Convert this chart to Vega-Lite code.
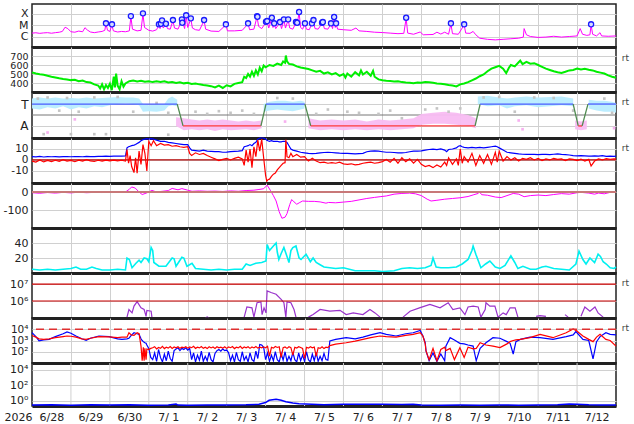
{
  "$schema": "https://vega.github.io/schema/vega-lite/v6.json",
  "background": "white",
  "padding": {"left": 2, "top": 3, "right": 4, "bottom": 4},
  "spacing": 0,
  "bounds": "flush",
  "config": {
    "view": {"stroke": "#222", "strokeWidth": 1.5},
    "axis": {"labelFont": "DejaVu Sans", "labelFontSize": 11, "labelColor": "#222", "gridColor": "#d0d0d0", "ticks": false, "domain": false, "labelPadding": 4, "labelOverlap": false, "labelFlush": false}
  },
  "vconcat": [
    {
      "width": 584, "height": 43,
      "layer": [
        {
          "data": {"format": {"type": "csv", "parse": {"t": "number", "f": "number"}},
            "values": "t,f\n0,-5.70\n0.1,-5.67\n0.2,-5.72\n0.3,-5.68\n0.4,-5.66\n0.5,-5.71\n0.6,-5.66\n0.7,-5.62\n0.78,-5.55\n0.85,-5.18\n0.92,-5.30\n1.0,-5.58\n1.1,-5.62\n1.2,-5.52\n1.3,-5.58\n1.36,-5.22\n1.42,-5.42\n1.5,-5.60\n1.6,-5.66\n1.7,-5.60\n1.8,-5.55\n1.87,-5.45\n1.90,-4.88\n1.94,-5.45\n2.0,-5.55\n2.05,-4.97\n2.09,-5.50\n2.2,-5.60\n2.3,-5.55\n2.4,-5.58\n2.5,-5.50\n2.54,-4.24\n2.58,-5.35\n2.7,-5.50\n2.8,-5.45\n2.85,-4.00\n2.89,-5.20\n3.0,-5.45\n3.1,-5.52\n3.2,-5.40\n3.26,-4.97\n3.29,-5.30\n3.31,-4.92\n3.33,-4.62\n3.37,-5.25\n3.44,-4.92\n3.48,-5.30\n3.55,-5.35\n3.62,-4.59\n3.66,-5.25\n3.75,-5.35\n3.85,-4.53\n3.88,-4.83\n3.92,-5.30\n3.96,-4.17\n4.0,-5.20\n4.08,-4.44\n4.12,-5.25\n4.2,-5.40\n4.3,-5.45\n4.42,-4.59\n4.46,-5.35\n4.6,-5.52\n4.8,-5.55\n4.98,-4.97\n5.02,-5.50\n5.2,-5.50\n5.4,-5.45\n5.55,-4.88\n5.59,-5.40\n5.7,-5.35\n5.78,-4.24\n5.82,-5.10\n5.9,-5.30\n6.01,-4.74\n6.04,-4.68\n6.08,-5.25\n6.16,-4.39\n6.19,-5.20\n6.22,-4.88\n6.26,-5.30\n6.37,-4.77\n6.41,-5.30\n6.47,-4.53\n6.51,-5.25\n6.58,-4.53\n6.62,-5.25\n6.7,-5.35\n6.78,-4.77\n6.81,-4.83\n6.83,-4.50\n6.86,-3.88\n6.9,-5.20\n6.95,-5.35\n7.01,-4.88\n7.05,-5.35\n7.12,-5.40\n7.19,-4.88\n7.22,-4.59\n7.27,-5.30\n7.35,-5.35\n7.45,-4.83\n7.47,-4.77\n7.51,-5.30\n7.6,-5.35\n7.68,-4.88\n7.72,-5.30\n7.76,-4.32\n7.79,-5.20\n7.81,-4.88\n7.85,-5.35\n8.0,-5.40\n8.2,-5.45\n8.32,-5.25\n8.4,-5.50\n8.6,-5.55\n8.8,-5.62\n9.0,-5.65\n9.2,-5.70\n9.4,-5.75\n9.55,-5.72\n9.61,-4.39\n9.65,-5.70\n9.8,-5.80\n9.97,-5.60\n10.05,-5.85\n10.3,-5.82\n10.4,-5.62\n10.5,-5.78\n10.6,-5.62\n10.7,-5.80\n10.76,-4.88\n10.8,-5.75\n10.95,-5.80\n11.1,-4.97\n11.14,-5.70\n11.25,-5.72\n11.33,-5.55\n11.4,-5.85\n11.5,-6.15\n11.7,-6.25\n11.9,-6.30\n12.1,-6.25\n12.3,-6.20\n12.5,-6.15\n12.62,-6.05\n12.64,-5.30\n12.7,-5.85\n12.8,-6.00\n13.0,-6.08\n13.2,-6.05\n13.4,-5.98\n13.6,-6.05\n13.8,-6.00\n14.0,-5.95\n14.08,-5.30\n14.14,-5.80\n14.25,-5.90\n14.33,-5.85\n14.36,-4.97\n14.4,-5.80\n14.5,-5.95\n14.59,-5.66\n14.63,-5.95\n14.8,-5.98\n15.0,-5.95"},
          "mark": {"type": "line", "color": "#ff00ff", "strokeWidth": 1},
          "encoding": {
            "x": {"field": "t", "type": "quantitative", "scale": {"domain": [0, 15], "nice": false, "zero": false},
              "axis": {"values": [1,2,3,4,5,6,7,8,9,10,11,12,13,14], "tickCount": 30, "grid": true, "labels": false, "domain": true, "domainWidth": 3, "domainColor": "#222", "title": null}},
            "y": {"field": "f", "type": "quantitative", "scale": {"domain": [-6.93, -3.12], "nice": false, "zero": false},
              "axis": {"values": [-6, -5, -4], "tickCount": 30, "grid": true, "title": null, "labelFontSize": 11, "labelExpr": "datum.value == -4 ? 'X' : datum.value == -5 ? 'M' : 'C'"}}
          }
        },
        {
          "data": {"format": {"type": "csv", "parse": {"t": "number", "f": "number"}},
            "values": "t,f\n1.90,-4.83\n2.055,-4.92\n2.54,-4.19\n2.85,-3.95\n3.26,-4.92\n3.31,-4.87\n3.34,-4.57\n3.44,-4.87\n3.62,-4.54\n3.85,-4.48\n3.86,-4.78\n3.96,-4.12\n4.08,-4.39\n4.42,-4.54\n4.98,-4.92\n5.55,-4.83\n5.78,-4.19\n5.79,-4.25\n6.01,-4.69\n6.04,-4.63\n6.16,-4.34\n6.22,-4.83\n6.37,-4.72\n6.47,-4.48\n6.58,-4.48\n6.78,-4.72\n6.81,-4.78\n6.86,-3.83\n7.01,-4.83\n7.19,-4.83\n7.23,-4.54\n7.45,-4.78\n7.47,-4.72\n7.68,-4.83\n7.76,-4.27\n7.81,-4.83\n9.61,-4.34\n10.76,-4.83\n11.10,-4.92\n14.36,-4.92"},
          "mark": {"type": "point", "filled": true, "fill": "#d4dcff", "stroke": "#1a1aff", "strokeWidth": 1.3, "size": 26, "opacity": 1},
          "encoding": {
            "x": {"field": "t", "type": "quantitative"},
            "y": {"field": "f", "type": "quantitative"}
          }
        }
      ]
    },
    {
      "width": 584, "height": 45,
      "layer": [
        {
          "data": {"format": {"type": "csv", "parse": {"t": "number", "v": "number"}},
            "values": "t,v\n0,518\n0.1,505\n0.2,498\n0.3,492\n0.4,480\n0.5,470\n0.6,462\n0.7,452\n0.8,445\n0.9,440\n1.0,432\n1.1,435\n1.2,420\n1.3,428\n1.4,410\n1.5,405\n1.6,385\n1.7,372\n1.75,340\n1.8,385\n1.85,330\n1.9,378\n1.95,345\n2.0,392\n2.05,320\n2.1,470\n2.13,350\n2.16,505\n2.2,370\n2.25,330\n2.3,420\n2.35,360\n2.4,395\n2.5,420\n2.6,428\n2.7,418\n2.8,425\n2.9,415\n3.0,420\n3.1,410\n3.2,418\n3.3,412\n3.4,420\n3.5,405\n3.6,410\n3.7,400\n3.8,408\n3.9,396\n4.0,402\n4.1,390\n4.2,395\n4.3,385\n4.4,378\n4.5,372\n4.6,365\n4.7,350\n4.8,370\n4.9,345\n5.0,375\n5.1,362\n5.2,390\n5.3,400\n5.4,410\n5.45,470\n5.5,455\n5.55,500\n5.6,470\n5.65,525\n5.7,480\n5.75,540\n5.8,495\n5.85,570\n5.9,530\n5.95,595\n6.0,575\n6.1,600\n6.2,590\n6.3,615\n6.4,600\n6.45,640\n6.5,625\n6.52,705\n6.55,640\n6.6,612\n6.7,605\n6.8,585\n6.9,572\n7.0,565\n7.1,556\n7.2,540\n7.3,525\n7.4,535\n7.5,505\n7.6,518\n7.7,495\n7.8,510\n7.9,480\n8.0,500\n8.05,460\n8.1,505\n8.2,470\n8.3,520\n8.4,485\n8.45,540\n8.5,495\n8.6,525\n8.7,480\n8.76,535\n8.8,470\n8.9,440\n9.0,430\n9.1,425\n9.2,422\n9.3,418\n9.4,420\n9.5,410\n9.6,405\n9.7,402\n9.8,398\n9.9,405\n10.0,402\n10.1,412\n10.2,408\n10.3,402\n10.4,395\n10.5,392\n10.6,385\n10.7,378\n10.8,372\n10.9,362\n11.0,385\n11.1,395\n11.2,410\n11.3,430\n11.4,450\n11.5,475\n11.6,495\n11.7,530\n11.8,560\n11.9,575\n12.0,590\n12.1,560\n12.18,510\n12.25,570\n12.3,600\n12.4,585\n12.5,630\n12.54,648\n12.6,610\n12.7,635\n12.8,615\n12.9,620\n13.0,600\n13.1,580\n13.2,560\n13.3,545\n13.4,530\n13.5,520\n13.6,512\n13.7,525\n13.8,540\n13.9,545\n14.0,560\n14.1,550\n14.2,558\n14.3,548\n14.4,540\n14.5,525\n14.6,515\n14.7,505\n14.8,485\n14.9,470\n15.0,458"},
          "mark": {"type": "line", "color": "#00ee00", "strokeWidth": 2},
          "encoding": {
            "x": {"field": "t", "type": "quantitative", "scale": {"domain": [0, 15], "nice": false, "zero": false},
              "axis": {"values": [1,2,3,4,5,6,7,8,9,10,11,12,13,14], "tickCount": 30, "grid": true, "labels": false, "domain": true, "domainWidth": 3, "domainColor": "#222", "title": null}},
            "y": {"field": "v", "type": "quantitative", "scale": {"domain": [300, 800], "nice": false, "zero": false},
              "axis": {"values": [400, 500, 600, 700], "tickCount": 30, "grid": true, "title": null, "labelFontSize": 9.5}}
          }
        },
        {
          "data": {"values": [{}]},
          "mark": {"type": "text", "text": "rt", "align": "left", "baseline": "middle", "fontSize": 9, "color": "#444", "font": "DejaVu Sans"},
          "encoding": {"x": {"datum": 15.15}, "y": {"datum": 680}}
        }
      ]
    },
    {
      "width": 584, "height": 46,
      "layer": [
        {
          "data": {"values": [{}]},
          "mark": {"type": "rule", "color": "#777", "strokeWidth": 1},
          "encoding": {"y": {"datum": 0, "scale": {"domain": [-2.1, 2.1], "nice": false, "zero": false},
            "axis": {"values": [-1, 1], "tickCount": 30, "grid": true, "title": null, "labelFontSize": 12, "labelExpr": "datum.value > 0 ? 'T' : 'A'"}}}
        },
        {
          "data": {"format": {"type": "csv", "parse": {"t": "number", "hi": "number", "lo": "number", "g": "number"}},
            "values": "t,hi,lo,g\n0,1.5,0.6,1\n0.2,1.6,0.5,1\n0.4,1.5,0.7,1\n0.6,1.6,0.6,1\n0.8,1.5,0.8,1\n1.0,1.55,0.5,1\n1.2,1.5,0.7,1\n1.4,1.6,0.6,1\n1.6,1.5,0.8,1\n1.8,1.55,0.7,1\n2.0,1.6,0.9,1\n2.2,1.65,1.0,1\n2.4,1.6,1.05,1\n2.6,1.6,1.0,1\n2.75,1.5,0.9,1\n2.85,1.0,0.3,1\n3.0,0.9,0.35,1\n3.2,0.95,0.3,1\n3.4,1.0,0.4,1\n3.5,1.5,0.8,1\n3.6,1.7,0.9,1\n3.73,1.4,0.8,1\n5.95,1.0,0.3,2\n6.1,1.2,0.4,2\n6.3,1.3,0.5,2\n6.5,1.3,0.4,2\n6.7,1.2,0.35,2\n6.9,1.3,0.5,2\n7.0,1.2,0.6,2\n11.45,1.7,1.0,3\n11.7,1.75,0.8,3\n12.0,1.6,0.9,3\n12.2,1.5,0.6,3\n12.4,1.6,0.8,3\n12.7,1.7,0.9,3\n13.0,1.6,0.7,3\n13.3,1.65,0.8,3\n13.6,1.7,0.9,3\n13.9,1.5,0.8,3\n14.3,1.4,0.6,4\n14.5,1.3,0.4,4\n14.7,1.3,0.3,4\n14.9,1.2,0.3,4\n15,1.1,0.2,4"},
          "mark": {"type": "area", "color": "#b8ecff", "opacity": 0.95},
          "encoding": {
            "x": {"field": "t", "type": "quantitative", "scale": {"domain": [0, 15], "nice": false, "zero": false},
              "axis": {"values": [1,2,3,4,5,6,7,8,9,10,11,12,13,14], "tickCount": 30, "grid": true, "labels": false, "domain": true, "domainWidth": 3, "domainColor": "#222", "title": null}},
            "y": {"field": "hi", "type": "quantitative"},
            "y2": {"field": "lo"},
            "detail": {"field": "g", "type": "nominal"}
          }
        },
        {
          "data": {"format": {"type": "csv", "parse": {"t": "number", "hi": "number", "lo": "number", "g": "number"}},
            "values": "t,hi,lo,g\n3.7,-0.2,-1.0,1\n3.9,-0.3,-1.4,1\n4.1,-0.4,-1.3,1\n4.3,-0.5,-1.4,1\n4.5,-0.4,-1.3,1\n4.7,-0.5,-1.45,1\n4.9,-0.4,-1.3,1\n5.1,-0.5,-1.4,1\n5.3,-0.6,-1.35,1\n5.5,-0.5,-1.3,1\n5.7,-0.6,-1.4,1\n5.9,-0.5,-1.2,1\n7.1,-0.3,-1.2,2\n7.4,-0.5,-1.4,2\n7.7,-0.4,-1.3,2\n8.0,-0.5,-1.4,2\n8.3,-0.4,-1.3,2\n8.6,-0.6,-1.4,2\n8.9,-0.4,-1.3,2\n9.2,-0.5,-1.4,2\n9.5,-0.4,-1.3,2\n9.8,-0.3,-1.2,2\n10.0,0.1,-0.9,2\n10.3,0.2,-0.8,2\n10.6,0.3,-0.8,2\n10.9,0.2,-0.9,2\n11.2,0.0,-1.0,2\n11.4,-0.3,-1.2,2\n13.95,-0.5,-1.3,3\n14.1,-0.6,-1.4,3\n14.25,-0.5,-1.3,3"},
          "mark": {"type": "area", "color": "#f8bcf2", "opacity": 0.95},
          "encoding": {
            "x": {"field": "t", "type": "quantitative"},
            "y": {"field": "hi", "type": "quantitative"},
            "y2": {"field": "lo"},
            "detail": {"field": "g", "type": "nominal"}
          }
        },
        {
          "data": {"format": {"type": "csv", "parse": {"t": "number", "v": "number"}},
            "values": "t,v\n0.15,1.5\n0.3,-1.75\n0.4,1.6\n0.7,0.4\n0.9,1.55\n1.0,-1.75\n1.2,0.3\n1.6,1.6\n1.6,-1.75\n1.9,-1.75\n2.2,1.65\n2.6,0.3\n3.2,1.1\n3.5,0.2\n3.5,-1.8\n4.2,0.3\n4.5,0.1\n4.8,0.35\n5.1,0.2\n5.4,0.4\n5.7,0.1\n6.3,1.55\n6.7,1.5\n7.3,0.1\n7.6,0.5\n8.1,0.3\n8.4,0.2\n8.9,0.1\n9.2,0.4\n9.5,-0.3\n10.1,0.5\n10.4,0.6\n10.7,0.3\n11.0,0.6\n11.6,1.6\n12.0,1.65\n12.4,0.3\n12.9,1.6\n13.4,1.55\n13.9,0.4\n14.7,1.5\n14.9,0.2"},
          "mark": {"type": "square", "color": "#c4c4c4", "size": 7, "opacity": 1},
          "encoding": {
            "x": {"field": "t", "type": "quantitative"},
            "y": {"field": "v", "type": "quantitative"}
          }
        },
        {
          "data": {"format": {"type": "csv", "parse": {"t": "number", "v": "number"}},
            "values": "t,v\n0.4,-1.6\n1.1,-0.4\n6.5,-0.6\n12.5,-0.5\n12.6,-1.3\n14.95,-1.2"},
          "mark": {"type": "square", "color": "#f7b0f0", "size": 7, "opacity": 1},
          "encoding": {
            "x": {"field": "t", "type": "quantitative"},
            "y": {"field": "v", "type": "quantitative"}
          }
        },
        {
          "data": {"format": {"type": "csv", "parse": {"t": "number", "s": "number", "g": "number"}},
            "values": "t,s,g,k\n0,1,1,T\n3.73,1,1,T\n3.73,1,2,X\n3.88,-1,2,X\n3.88,-1,3,A\n5.88,-1,3,A\n5.88,-1,4,X\n6.01,1,4,X\n6.01,1,5,T\n7.01,1,5,T\n7.01,1,6,X\n7.16,-1,6,X\n7.16,-1,7,A\n11.38,-1,7,A\n11.38,-1,8,X\n11.51,1,8,X\n11.51,1,9,T\n13.90,1,9,T\n13.90,1,10,X\n14.03,-1,10,X\n14.03,-1,11,A\n14.13,-1,11,A\n14.13,-1,12,X\n14.28,1,12,X\n14.28,1,13,T\n15,1,13,T"},
          "mark": {"type": "line", "strokeWidth": 1.3},
          "encoding": {
            "x": {"field": "t", "type": "quantitative"},
            "y": {"field": "s", "type": "quantitative"},
            "detail": {"field": "g", "type": "nominal"},
            "color": {"field": "k", "type": "nominal", "legend": null, "scale": {"domain": ["T", "A", "X"], "range": ["#4a5cff", "#ff3a3a", "#4f8a4f"]}}
          }
        },
        {
          "data": {"values": [{}]},
          "mark": {"type": "text", "text": "rt", "align": "left", "baseline": "middle", "fontSize": 9, "color": "#444", "font": "DejaVu Sans"},
          "encoding": {"x": {"datum": 15.15}, "y": {"datum": 1.2}}
        }
      ]
    },
    {
      "width": 584, "height": 45,
      "data": {"format": {"type": "csv", "parse": {"t": "number", "bt": "number", "bz": "number"}},
        "values": "t,bt,bz\n0.0,3.0,-1.0\n0.1,2.8,-2.0\n0.2,3.2,0.0\n0.3,2.7,-1.8\n0.4,3.0,-0.5\n0.5,2.9,-1.5\n0.6,3.1,-0.3\n0.7,2.8,-1.2\n0.8,3.0,0.2\n0.9,3.1,-1.0\n1.0,2.9,-0.4\n1.1,3.0,-1.6\n1.2,3.1,-0.2\n1.3,2.9,-1.0\n1.4,3.2,0.3\n1.5,3.0,-0.8\n1.6,3.1,-1.4\n1.7,3.3,-0.3\n1.8,3.2,-1.0\n1.9,3.4,-0.2\n2.0,3.3,-0.8\n2.1,3.5,-0.1\n2.2,3.4,-0.9\n2.3,3.5,-0.3\n2.4,3.6,-1.0\n2.44,11.0,9.5\n2.48,12.0,-3.0\n2.52,12.5,4.0\n2.56,13.0,-6.0\n2.62,13.5,-11.5\n2.66,14.0,2.0\n2.70,15.0,-12.0\n2.75,16.0,8.0\n2.80,17.5,-4.0\n2.85,18.5,14.0\n2.90,19.0,6.0\n2.95,19.5,-10.0\n3.0,19.0,17.0\n3.06,19.5,13.0\n3.12,19.0,17.5\n3.2,18.0,13.0\n3.3,17.0,15.0\n3.4,17.0,13.5\n3.5,16.0,14.0\n3.6,15.5,12.5\n3.7,15.0,13.0\n3.8,14.5,12.0\n3.9,14.0,11.5\n4.0,14.0,12.0\n4.05,11.0,6.0\n4.1,9.0,4.0\n4.2,8.5,6.5\n4.3,8.0,5.0\n4.4,9.0,6.0\n4.5,8.0,4.0\n4.6,7.8,2.5\n4.7,7.5,1.0\n4.8,7.5,-0.5\n4.9,7.0,0.5\n5.0,7.2,1.5\n5.1,7.5,0.0\n5.2,7.8,1.5\n5.3,8.0,2.5\n5.4,8.5,1.0\n5.45,12.0,-5.0\n5.5,12.5,9.0\n5.55,13.0,-2.0\n5.6,14.0,10.0\n5.65,13.0,-7.0\n5.7,15.0,12.0\n5.75,16.0,3.0\n5.8,19.0,18.0\n5.85,20.0,8.0\n5.9,20.0,19.0\n5.95,20.0,2.0\n6.0,19.0,-14.0\n6.03,18.0,-19.5\n6.06,17.5,-18.0\n6.1,17.0,-17.5\n6.15,17.5,-15.0\n6.2,17.0,-13.0\n6.25,17.0,-12.0\n6.3,17.0,-9.0\n6.35,16.5,-7.0\n6.4,16.5,-5.0\n6.45,17.0,-3.0\n6.5,17.0,-2.5\n6.52,16.5,18.5\n6.55,16.0,3.0\n6.6,13.0,2.0\n6.65,10.0,6.0\n6.7,9.0,3.0\n6.8,8.0,5.0\n6.9,7.0,2.5\n7.0,6.5,3.0\n7.1,6.0,-1.0\n7.2,5.8,1.5\n7.3,6.0,-1.0\n7.4,6.5,-2.5\n7.5,6.8,-2.0\n7.6,7.0,-3.0\n7.7,6.8,-2.5\n7.8,6.5,-3.0\n7.9,6.2,-2.0\n8.0,6.0,-3.5\n8.1,6.0,-4.0\n8.2,5.8,-3.5\n8.3,5.5,-4.5\n8.4,5.8,-4.0\n8.5,6.0,-3.0\n8.6,7.5,-2.5\n8.7,8.0,-2.0\n8.8,8.2,-3.0\n8.9,8.0,-2.5\n9.0,7.5,-1.5\n9.1,7.0,0.5\n9.2,7.0,-2.0\n9.3,6.8,1.5\n9.4,6.5,-3.0\n9.5,6.5,2.0\n9.6,6.8,-1.5\n9.7,7.5,1.0\n9.8,8.0,-3.0\n9.9,8.0,0.5\n10.0,8.2,-4.0\n10.1,9.0,-6.0\n10.2,9.5,-5.0\n10.3,9.8,-7.0\n10.4,9.5,-4.5\n10.5,10.0,-6.5\n10.6,9.0,-2.0\n10.65,7.5,-5.0\n10.7,9.5,2.0\n10.8,10.0,-4.0\n10.9,11.0,1.0\n10.95,12.5,-5.0\n11.0,13.0,10.0\n11.05,12.0,-3.0\n11.1,11.5,3.0\n11.2,11.0,-2.0\n11.3,11.5,6.0\n11.4,11.0,-5.0\n11.5,11.5,4.0\n11.6,11.0,-3.0\n11.7,11.5,5.0\n11.8,12.0,-4.0\n11.9,12.5,7.0\n11.95,12.0,-2.0\n12.0,11.0,8.0\n12.1,9.0,-1.0\n12.2,7.0,3.0\n12.3,6.5,0.0\n12.4,6.0,2.0\n12.5,5.5,-1.0\n12.6,5.2,1.5\n12.7,5.0,0.5\n12.8,5.2,2.0\n12.9,5.0,0.0\n13.0,4.8,1.5\n13.1,5.0,-0.5\n13.2,5.0,1.0\n13.3,4.8,0.0\n13.4,5.2,1.5\n13.5,5.5,0.5\n13.6,5.0,1.0\n13.7,4.8,-0.5\n13.8,4.5,1.0\n13.9,4.0,0.5\n14.0,3.8,-0.5\n14.1,4.0,0.8\n14.2,3.8,-1.0\n14.3,3.5,0.5\n14.36,3.5,-5.5\n14.45,3.8,-1.0\n14.55,3.5,1.0\n14.65,4.0,0.0\n14.75,3.2,1.2\n14.85,3.5,0.5\n14.95,3.2,1.0\n15.0,3.5,0.8"},
      "layer": [
        {
          "mark": {"type": "line", "color": "#0000ff", "strokeWidth": 1.2},
          "encoding": {
            "x": {"field": "t", "type": "quantitative", "scale": {"domain": [0, 15], "nice": false, "zero": false},
              "axis": {"values": [1,2,3,4,5,6,7,8,9,10,11,12,13,14], "tickCount": 30, "grid": true, "labels": false, "domain": true, "domainWidth": 3, "domainColor": "#222", "title": null}},
            "y": {"field": "bt", "type": "quantitative", "scale": {"domain": [-21, 20], "nice": false, "zero": false},
              "axis": {"values": [-10, 0, 10], "tickCount": 30, "grid": true, "title": null, "labelFontSize": 10.5, "labelExpr": "'' + datum.value"}}
          }
        },
        {
          "data": {"values": [{}]},
          "mark": {"type": "rule", "color": "#b00000", "strokeWidth": 1.2},
          "encoding": {"y": {"datum": 0}}
        },
        {
          "mark": {"type": "line", "color": "#ff0000", "strokeWidth": 1.2},
          "encoding": {
            "x": {"field": "t", "type": "quantitative"},
            "y": {"field": "bz", "type": "quantitative"}
          }
        },
        {
          "data": {"values": [{}]},
          "mark": {"type": "text", "text": "rt", "align": "left", "baseline": "middle", "fontSize": 9, "color": "#444", "font": "DejaVu Sans"},
          "encoding": {"x": {"datum": 15.15}, "y": {"datum": 11}}
        }
      ]
    },
    {
      "width": 584, "height": 45,
      "layer": [
        {
          "data": {"format": {"type": "csv", "parse": {"t": "number", "d": "number"}},
            "values": "t,d\n0.0,-4\n0.2,-7\n0.4,-3\n0.6,-6\n0.8,-2\n1.0,-5\n1.2,-1\n1.4,-4\n1.6,-2\n1.8,-3\n2.0,0\n2.2,-2\n2.4,0\n2.5,15\n2.56,28\n2.65,22\n2.75,0\n2.83,-14\n2.95,-5\n3.08,9\n3.2,0\n3.35,4\n3.5,8\n3.6,20\n3.75,12\n3.85,19\n4.0,10\n4.11,4\n4.3,6\n4.5,4\n4.7,5\n4.9,3\n5.1,6\n5.3,4\n5.5,8\n5.7,10\n5.83,14\n5.95,18\n6.04,38\n6.12,10\n6.2,-20\n6.27,-50\n6.35,-110\n6.42,-146\n6.5,-140\n6.55,-120\n6.62,-70\n6.67,-42\n6.73,-55\n6.8,-68\n6.88,-58\n6.95,-50\n7.1,-52\n7.25,-52\n7.4,-55\n7.55,-62\n7.62,-58\n7.8,-60\n8.0,-56\n8.2,-52\n8.4,-44\n8.6,-36\n8.8,-30\n8.94,-26\n9.1,-22\n9.3,-12\n9.5,-8\n9.7,-6\n9.85,-10\n10.0,-20\n10.15,-40\n10.25,-50\n10.4,-46\n10.6,-40\n10.8,-36\n11.0,-32\n11.2,-25\n11.35,-15\n11.46,-8\n11.48,5\n11.55,-15\n11.7,-18\n11.9,-28\n12.05,-31\n12.2,-20\n12.36,-8\n12.5,-12\n12.64,-26\n12.8,-20\n13.0,-17\n13.2,-20\n13.4,-14\n13.6,-9\n13.8,-12\n14.0,-4\n14.1,-2\n14.3,-6\n14.45,-12\n14.55,-6\n14.7,-10\n14.85,-2\n15.0,-1"},
          "mark": {"type": "line", "color": "#ff00ff", "strokeWidth": 1},
          "encoding": {
            "x": {"field": "t", "type": "quantitative", "scale": {"domain": [0, 15], "nice": false, "zero": false},
              "axis": {"values": [1,2,3,4,5,6,7,8,9,10,11,12,13,14], "tickCount": 30, "grid": true, "labels": false, "domain": true, "domainWidth": 3, "domainColor": "#222", "title": null}},
            "y": {"field": "d", "type": "quantitative", "scale": {"domain": [-200, 50], "nice": false, "zero": false},
              "axis": {"values": [-100, 0], "tickCount": 30, "grid": true, "title": null, "labelExpr": "'' + datum.value"}}
          }
        },
        {
          "data": {"values": [{}]},
          "mark": {"type": "rule", "color": "#c87878", "strokeWidth": 2.2},
          "encoding": {"y": {"datum": 0}}
        }
      ]
    },
    {
      "width": 584, "height": 45,
      "layer": [
        {
          "data": {"format": {"type": "csv", "parse": {"t": "number", "k": "number"}},
            "values": "t,k\n0.0,5\n0.2,4\n0.4,5\n0.6,4\n0.8,5\n1.0,6\n1.13,8\n1.25,5\n1.4,5\n1.54,8\n1.65,6\n1.8,4\n2.0,4\n2.2,5\n2.4,4\n2.44,20\n2.5,18\n2.57,7\n2.67,13\n2.75,17\n2.8,14\n2.88,20\n2.95,19\n3.0,15\n3.06,34\n3.1,30\n3.13,14\n3.26,9\n3.44,9\n3.6,20\n3.65,19\n3.7,9\n3.85,21\n3.9,20\n3.98,9\n4.11,13\n4.2,6\n4.4,5\n4.6,4\n4.8,5\n5.0,4\n5.2,5\n5.4,5\n5.5,12\n5.6,10\n5.75,13\n5.9,14\n6.01,16\n6.04,38\n6.1,30\n6.2,36\n6.27,40\n6.3,28\n6.34,18\n6.4,26\n6.47,34\n6.55,22\n6.6,14\n6.65,30\n6.7,34\n6.78,36\n6.86,20\n6.91,18\n7.04,25\n7.15,15\n7.22,20\n7.3,14\n7.4,11\n7.5,8\n7.65,7\n7.8,6\n8.0,7\n8.3,3\n8.5,3\n8.8,3\n9.0,2\n9.3,3\n9.5,6\n9.7,7\n9.9,6\n10.1,7\n10.25,10\n10.3,20\n10.38,8\n10.5,7\n10.7,7\n10.9,8\n11.05,12\n11.2,18\n11.3,30\n11.33,36\n11.4,25\n11.53,7\n11.65,12\n11.76,16\n11.9,8\n12.02,6\n12.15,10\n12.3,23\n12.4,14\n12.48,6\n12.61,9\n12.8,5\n12.95,5\n13.1,8\n13.2,9\n13.4,6\n13.6,5\n13.8,4\n13.97,12\n14.05,29\n14.15,18\n14.23,12\n14.33,20\n14.45,14\n14.54,25\n14.6,22\n14.67,15\n14.75,12\n14.85,7\n14.95,6\n15.0,8"},
          "mark": {"type": "line", "color": "#00f0f0", "strokeWidth": 1.6},
          "encoding": {
            "x": {"field": "t", "type": "quantitative", "scale": {"domain": [0, 15], "nice": false, "zero": false},
              "axis": {"values": [1,2,3,4,5,6,7,8,9,10,11,12,13,14], "tickCount": 30, "grid": true, "labels": false, "domain": true, "domainWidth": 3, "domainColor": "#222", "title": null}},
            "y": {"field": "k", "type": "quantitative", "scale": {"domain": [0, 60], "nice": false, "zero": false},
              "axis": {"values": [20, 40], "tickCount": 30, "grid": true, "title": null}}
          }
        }
      ]
    },
    {
      "width": 584, "height": 45,
      "layer": [
        {
          "data": {"format": {"type": "csv", "parse": {"t": "number", "e": "number", "g": "number"}},
            "values": "t,e,g\n2.44,5.05,1\n2.49,5.5,1\n2.57,5.3,1\n2.62,5.7,1\n2.70,5.96,1\n2.80,5.6,1\n2.88,5.5,1\n2.93,5.1,1\n2.95,5.45,1\n3.06,5.4,1\n3.08,5.05,1\n4.45,5.0,2\n4.5,5.06,2\n4.55,5.0,2\n5.45,5.05,3\n5.52,5.65,3\n5.65,5.6,3\n5.70,5.05,3\n5.78,5.9,3\n5.88,5.95,3\n5.91,5.2,3\n5.96,5.6,3\n6.01,5.3,3\n6.04,6.6,3\n6.14,6.5,3\n6.27,6.4,3\n6.40,6.1,3\n6.47,5.9,3\n6.52,5.05,3\n6.55,5.95,3\n6.65,5.9,3\n6.73,5.5,3\n6.78,5.05,3\n7.1,5.05,4\n7.22,5.2,4\n7.40,5.5,4\n7.65,5.4,4\n7.91,5.45,4\n8.07,5.2,4\n8.25,5.3,4\n8.50,5.2,4\n8.68,5.5,4\n8.81,5.3,4\n8.94,5.05,4\n9.53,5.05,5\n9.71,5.4,5\n9.97,5.61,5\n10.22,5.8,5\n10.48,5.6,5\n10.69,5.9,5\n10.81,5.5,5\n10.99,5.6,5\n11.12,5.2,5\n11.20,5.65,5\n11.33,5.7,5\n11.46,5.65,5\n11.53,5.05,5\n11.64,5.5,5\n11.66,5.9,5\n11.76,5.7,5\n11.89,5.7,5\n11.97,5.05,5\n12.10,5.3,5\n12.18,5.2,5\n12.28,5.6,5\n12.41,5.6,5\n12.48,5.05,5\n12.95,5.1,6\n13.05,5.14,6\n13.2,5.1,6\n13.69,5.2,7\n13.77,5.05,7\n14.10,5.1,8\n14.20,5.65,8\n14.33,5.4,8\n14.46,5.65,8\n14.54,5.3,8\n14.67,5.05,8"},
          "mark": {"type": "line", "color": "#9933cc", "strokeWidth": 1.2},
          "encoding": {
            "x": {"field": "t", "type": "quantitative", "scale": {"domain": [0, 15], "nice": false, "zero": false},
              "axis": {"values": [1,2,3,4,5,6,7,8,9,10,11,12,13,14], "tickCount": 30, "grid": true, "labels": false, "domain": true, "domainWidth": 3, "domainColor": "#222", "title": null}},
            "y": {"field": "e", "type": "quantitative", "scale": {"domain": [5, 7.65], "nice": false, "zero": false},
              "axis": {"values": [6, 7], "tickCount": 30, "grid": true, "title": null, "labelExpr": "datum.value == 7 ? '10⁷' : '10⁶'"}},
            "detail": {"field": "g", "type": "nominal"}
          }
        },
        {
          "data": {"values": [{"lv": 6}, {"lv": 7}]},
          "mark": {"type": "rule", "color": "#cc0000", "strokeWidth": 1.2},
          "encoding": {"y": {"field": "lv", "type": "quantitative"}}
        },
        {
          "data": {"values": [{}]},
          "mark": {"type": "text", "text": "rt", "align": "left", "baseline": "middle", "fontSize": 9, "color": "#444", "font": "DejaVu Sans"},
          "encoding": {"x": {"datum": 15.15}, "y": {"datum": 7.05}}
        }
      ]
    },
    {
      "width": 584, "height": 45,
      "data": {"format": {"type": "csv", "parse": {"t": "number", "b": "number", "r": "number"}},
        "values": "t,b,r\n0,3.70,3.45\n0.1,3.35,3.30\n0.18,2.96,3.15\n0.3,3.05,3.10\n0.44,3.10,3.15\n0.6,3.35,3.25\n0.8,3.60,3.35\n0.9,3.76,3.40\n1.0,3.65,3.38\n1.13,3.40,3.30\n1.28,3.15,3.15\n1.39,3.02,3.10\n1.5,3.20,3.20\n1.72,3.40,3.35\n1.98,3.35,3.32\n2.2,3.15,3.25\n2.31,3.10,3.30\n2.44,3.15,3.30\n2.49,3.20,3.69\n2.55,3.45,3.50\n2.62,3.69,3.45\n2.70,3.60,3.69\n2.75,3.55,3.60\n2.80,3.15,2.50\n2.83,3.00,1.20\n2.86,2.90,2.40\n2.88,2.85,1.20\n2.90,2.80,2.30\n2.93,2.75,1.30\n2.95,2.60,2.25\n3.0,2.30,2.20\n3.05,1.50,2.30\n3.1,1.3,2.35\n3.15,1.9,2.45\n3.2,1.15,2.25\n3.25,2.2,2.38\n3.3,1.5,2.30\n3.35,1.1,2.48\n3.4,1.8,2.28\n3.45,1.2,2.40\n3.5,2.05,2.32\n3.55,1.4,2.46\n3.6,1.15,2.30\n3.65,2.1,2.42\n3.7,2.25,2.35\n3.75,2.35,2.45\n3.8,2.1,2.30\n3.85,2.3,2.40\n3.9,2.2,2.36\n3.95,2.35,2.44\n4.0,2.15,2.32\n4.05,2.3,2.42\n4.1,1.3,2.36\n4.15,1.9,2.48\n4.2,1.1,2.30\n4.25,1.7,2.40\n4.3,1.25,2.34\n4.35,2.05,2.46\n4.4,1.15,2.30\n4.45,1.6,2.40\n4.5,1.2,2.28\n4.55,1.95,2.44\n4.6,1.3,2.34\n4.65,1.1,2.42\n4.7,1.85,2.30\n4.75,2.1,2.45\n4.8,2.2,2.35\n4.85,2.05,2.40\n4.9,2.25,2.32\n4.95,2.1,2.44\n5.0,2.15,2.30\n5.05,1.9,2.42\n5.1,1.2,2.36\n5.15,1.7,2.46\n5.2,1.1,2.28\n5.25,1.95,2.40\n5.3,1.3,2.34\n5.35,1.15,2.48\n5.4,2.0,2.30\n5.45,1.25,2.42\n5.5,1.6,2.35\n5.55,1.1,2.44\n5.6,1.9,2.30\n5.65,1.3,2.42\n5.7,1.15,2.34\n5.75,2.05,2.46\n5.8,1.4,2.32\n5.85,2.65,2.40\n5.9,2.6,2.35\n5.95,2.4,2.44\n6.0,1.3,2.36\n6.05,1.9,2.48\n6.1,1.15,1.6\n6.15,1.7,2.40\n6.2,1.2,2.32\n6.25,2.0,2.46\n6.3,1.3,2.38\n6.35,1.1,2.44\n6.4,1.85,1.5\n6.45,1.25,2.36\n6.5,2.0,2.42\n6.55,1.15,2.30\n6.6,1.6,2.44\n6.65,1.2,2.36\n6.7,1.95,1.7\n6.75,1.3,2.40\n6.8,1.1,2.33\n6.85,1.9,2.45\n6.9,1.2,2.38\n6.95,1.7,2.30\n7.0,1.15,1.4\n7.05,2.0,2.40\n7.1,1.3,2.32\n7.15,1.1,2.45\n7.2,1.8,2.35\n7.25,1.2,2.42\n7.3,1.95,1.6\n7.35,1.15,2.36\n7.4,1.6,2.30\n7.45,1.2,2.44\n7.5,1.85,2.28\n7.55,1.3,2.40\n7.6,1.25,2.36\n7.65,2.96,2.55\n7.8,3.10,2.67\n8.07,3.25,2.80\n8.3,3.15,2.95\n8.5,3.30,3.10\n8.7,3.50,3.25\n8.94,3.69,3.40\n9.1,3.55,3.35\n9.35,3.40,3.30\n9.6,3.60,3.45\n9.79,3.69,3.55\n9.97,3.90,3.69\n10.04,3.40,3.40\n10.1,2.8,2.7\n10.12,2.07,2.07\n10.2,1.2,1.3\n10.3,1.9,2.3\n10.4,1.15,1.2\n10.5,1.8,2.2\n10.6,1.2,2.4\n10.63,2.5,2.1\n10.74,3.25,2.3\n10.85,3.05,1.3\n10.99,2.75,2.35\n11.1,2.7,1.5\n11.2,2.6,2.4\n11.33,2.50,2.25\n11.41,1.2,2.3\n11.51,2.3,2.80\n11.66,2.80,2.6\n11.84,3.25,2.5\n12.02,3.2,2.37\n12.2,2.9,2.7\n12.28,2.75,2.9\n12.36,1.8,3.0\n12.43,2.9,3.05\n12.54,3.10,3.10\n12.79,3.3,3.25\n13.05,3.25,3.55\n13.38,3.10,3.25\n13.72,3.35,3.69\n13.90,3.5,4.02\n13.97,3.8,3.9\n14.15,3.10,3.40\n14.30,3.0,3.1\n14.41,1.36,2.9\n14.5,2.9,3.3\n14.59,3.35,3.55\n14.74,3.69,3.10\n14.85,3.55,3.0\n15.0,3.50,2.50"},
      "layer": [
        {
          "mark": {"type": "line", "color": "#0000ff", "strokeWidth": 1.2},
          "encoding": {
            "x": {"field": "t", "type": "quantitative", "scale": {"domain": [0, 15], "nice": false, "zero": false},
              "axis": {"values": [1,2,3,4,5,6,7,8,9,10,11,12,13,14], "tickCount": 30, "grid": true, "labels": false, "domain": true, "domainWidth": 3, "domainColor": "#222", "title": null}},
            "y": {"field": "b", "type": "quantitative", "scale": {"domain": [1, 5], "nice": false, "zero": false},
              "axis": {"values": [2, 3, 4], "tickCount": 30, "grid": true, "title": null, "labelFontSize": 10.5, "labelExpr": "datum.value == 4 ? '10⁴' : datum.value == 3 ? '10³' : '10²'"}}
          }
        },
        {
          "mark": {"type": "line", "color": "#ff0000", "strokeWidth": 1.2},
          "encoding": {
            "x": {"field": "t", "type": "quantitative"},
            "y": {"field": "r", "type": "quantitative"}
          }
        },
        {
          "data": {"values": [{}]},
          "mark": {"type": "rule", "color": "#e03030", "strokeWidth": 1.4, "strokeDash": [8, 5]},
          "encoding": {"y": {"datum": 4}}
        },
        {
          "data": {"values": [{}]},
          "mark": {"type": "text", "text": "rt", "align": "left", "baseline": "middle", "fontSize": 9, "color": "#444", "font": "DejaVu Sans"},
          "encoding": {"x": {"datum": 15.15}, "y": {"datum": 4.1}}
        }
      ]
    },
    {
      "width": 584, "height": 43,
      "layer": [
        {
          "data": {"values": [{"t": 1}, {"t": 2}, {"t": 3}, {"t": 4}, {"t": 5}, {"t": 6}, {"t": 7}, {"t": 8}, {"t": 9}, {"t": 10}, {"t": 11}, {"t": 12}, {"t": 13}, {"t": 14}]},
          "mark": {"type": "rule", "color": "#d0d0d0", "strokeWidth": 1},
          "encoding": {
            "x": {"field": "t", "type": "quantitative", "scale": {"domain": [0, 15], "nice": false, "zero": false},
              "axis": {"values": [0, 0.5, 1.5, 2.5, 3.5, 4.5, 5.5, 6.5, 7.5, 8.5, 9.5, 10.5, 11.5, 12.5, 13.5, 14.5], "tickCount": 40, "grid": false, "labels": true, "domain": true, "domainWidth": 3, "domainColor": "#222", "title": null, "labelPadding": 5,
                "labelExpr": "datum.value == 0 ? '2026' : ['6/28','6/29','6/30','7/ 1','7/ 2','7/ 3','7/ 4','7/ 5','7/ 6','7/ 7','7/ 8','7/ 9','7/10','7/11','7/12'][floor(datum.value)]",
                "labelAlign": {"condition": {"test": "datum.value == 0", "value": "right"}, "value": "center"}}}
          }
        },
        {
          "data": {"format": {"type": "csv", "parse": {"t": "number", "f": "number"}},
            "values": "t,f\n0.0,-0.52\n0.5,-0.50\n1.0,-0.55\n1.5,-0.50\n2.0,-0.53\n2.5,-0.50\n3.0,-0.55\n3.5,-0.52\n3.7,-0.40\n3.75,-0.53\n4.0,-0.54\n4.5,-0.51\n5.0,-0.53\n5.5,-0.50\n5.83,-0.43\n6.0,-0.2\n6.09,0.09\n6.27,0.22\n6.4,0.1\n6.52,-0.09\n6.7,-0.25\n6.86,-0.35\n7.19,-0.43\n7.5,-0.5\n8.0,-0.43\n8.5,-0.43\n9.0,-0.42\n9.5,-0.45\n9.79,-0.43\n10.0,-0.52\n10.5,-0.55\n11.0,-0.53\n11.5,-0.55\n12.0,-0.52\n12.5,-0.55\n13.0,-0.53\n13.5,-0.5\n13.8,-0.4\n14.0,-0.42\n14.3,-0.5\n14.6,-0.53\n15.0,-0.52"},
          "mark": {"type": "line", "color": "#0000ff", "strokeWidth": 1.5},
          "encoding": {
            "x": {"field": "t", "type": "quantitative"},
            "y": {"field": "f", "type": "quantitative", "scale": {"domain": [-0.65, 4.9], "nice": false, "zero": false},
              "axis": {"values": [0, 2, 4], "tickCount": 30, "grid": true, "title": null, "labelExpr": "datum.value == 4 ? '10⁴' : datum.value == 2 ? '10²' : '10⁰'"}}
          }
        }
      ]
    }
  ]
}
